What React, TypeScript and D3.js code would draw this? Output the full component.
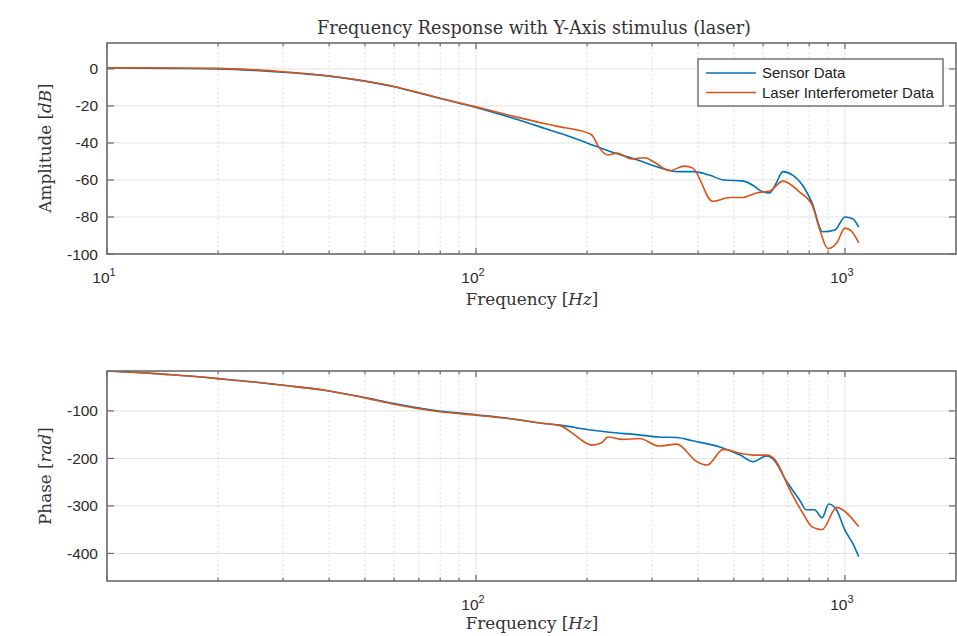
import * as d3 from "d3";
import { useEffect, useRef } from "react";

// amplitude, sensor
const ampSensorFreq = [10, 15, 20, 25, 30, 35, 40, 50, 60, 70, 80, 90, 100, 123, 153, 169, 200, 230, 272, 323, 350, 389, 431, 468, 528, 564, 587, 625, 650, 679, 723, 780, 815, 870, 940, 1000, 1050, 1090];
const ampSensorDb = [0.5, 0.3, 0, -0.8, -1.8, -2.8, -3.9, -6.6, -9.6, -13, -16, -18.5, -20.8, -26, -32, -34.8, -40, -44.5, -49, -54, -55.5, -55.5, -57.5, -60, -60.5, -63, -65.5, -67, -62, -55.5, -57.5, -65, -72.5, -88, -87, -80, -81, -85.5];

// amplitude, laser
const ampLaserFreq = [10, 15, 20, 25, 30, 35, 40, 50, 60, 70, 80, 90, 100, 123, 153, 169, 188, 206, 216, 228, 241, 264, 287, 302, 335, 367, 387, 438, 488, 528, 576, 625, 679, 754, 815, 855, 898, 950, 1000, 1040, 1090];
const ampLaserDb = [0.6, 0.5, 0.3, -0.5, -1.5, -2.6, -3.8, -6.5, -9.5, -12.8, -15.8, -18.3, -20.5, -25, -29.5, -31.3, -33, -35.7, -42.8, -46.5, -45.5, -48.6, -48, -50, -55, -52.5, -53.6, -71.5, -69.5, -69.5, -67, -66, -60.6, -66.6, -73.6, -87, -97, -94, -86, -87.5, -94];

// phase, sensor
const phaseSensorFreq = [10, 15, 20, 25, 30, 40, 50, 60, 76, 100, 123, 153, 169, 200, 230, 273, 313, 350, 387, 458, 520, 564, 612, 636, 696, 754, 786, 827, 867, 904, 950, 1000, 1050, 1090];
const phaseSensorVal = [-16, -24, -32, -39, -46, -58, -72, -84.5, -98, -108, -116, -126.5, -130, -139, -145, -150, -155, -156, -163, -176, -193, -207, -195, -200, -249, -288, -308, -308, -325, -296, -309, -351, -379, -407];

// phase, laser
const phaseLaserFreq = [10, 15, 20, 25, 30, 40, 50, 60, 76, 100, 123, 153, 169, 183, 200, 206, 219, 228, 250, 278, 313, 350, 397, 423, 468, 527, 564, 617, 645, 710, 770, 815, 867, 950, 990, 1090];
const phaseLaserVal = [-16, -24, -32, -39, -46, -58, -72.5, -86, -99.5, -109, -116, -126.5, -131, -147.5, -168.6, -172, -167, -155, -160, -158, -174, -170, -207, -214, -181, -190, -193, -193, -202, -267, -316, -344, -350, -303, -309, -344];

const seriesNames = ["Sensor Data", "Laser Interferometer Data"];
const colors = ["#0072BD", "#D95319"];
const ampTicks = [0, -20, -40, -60, -80, -100];
const phaseTicks = [-100, -200, -300, -400];
const topXTicks = [10, 100, 1000];
const bottomXTicks = [100, 1000];

const W = 957;
const H = 636;
const sans = "'Liberation Sans', Arial, sans-serif";
const serif = "'DejaVu Serif', serif";

const zip = (f, v) => f.map((d, i) => [d, v[i]]);

const App = () => {
  const ref = useRef(null);

  useEffect(() => {
    const svg = d3.select(ref.current);
    svg.selectAll("*").remove();

    const left = 107, right = 956;
    const x = d3.scaleLog().domain([10, 2000]).range([left, right]);
    const decades = [10, 100, 1000];
    const minor = [];
    decades.forEach(dec => {
      for (let k = 2; k <= 9; k++) if (dec * k < 2000) minor.push(dec * k);
    });

    const panels = [
      {
        top: 43, bottom: 254, domain: [-100, 14], yTicks: ampTicks, xTicks: topXTicks,
        series: [zip(ampSensorFreq, ampSensorDb), zip(ampLaserFreq, ampLaserDb)],
        yLabel: ["Amplitude [", "dB", "]"], yLabelY: 148, xLabelY: 305, legend: true,
      },
      {
        top: 371, bottom: 581, domain: [-458, -16], yTicks: phaseTicks, xTicks: bottomXTicks,
        series: [zip(phaseSensorFreq, phaseSensorVal), zip(phaseLaserFreq, phaseLaserVal)],
        yLabel: ["Phase [", "rad", "]"], yLabelY: 476, xLabelY: 629, legend: false,
      },
    ];

    panels.forEach((p, pi) => {
      const y = d3.scaleLinear().domain(p.domain).range([p.bottom, p.top]);
      const g = svg.append("g");

      // grid
      g.selectAll(".ygrid").data(p.yTicks).enter().append("line")
        .attr("x1", left).attr("x2", right)
        .attr("y1", d => y(d)).attr("y2", d => y(d))
        .attr("stroke", "#e2e2e2").attr("stroke-width", 1);
      g.selectAll(".xgrid").data(decades).enter().append("line")
        .attr("x1", d => x(d)).attr("x2", d => x(d))
        .attr("y1", p.top).attr("y2", p.bottom)
        .attr("stroke", "#e2e2e2").attr("stroke-width", 1);
      g.selectAll(".xminor").data(minor).enter().append("line")
        .attr("x1", d => x(d)).attr("x2", d => x(d))
        .attr("y1", p.top).attr("y2", p.bottom)
        .attr("stroke", "#d6d6d6").attr("stroke-width", 1)
        .attr("stroke-dasharray", "1.5,3");

      // lines
      const clipId = "clip" + pi;
      svg.append("clipPath").attr("id", clipId).append("rect")
        .attr("x", left).attr("y", p.top).attr("width", right - left).attr("height", p.bottom - p.top);
      const line = d3.line().curve(d3.curveMonotoneX).x(d => x(d[0])).y(d => y(d[1]));
      p.series.forEach((s, i) => {
        g.append("path").datum(s)
          .attr("d", line)
          .attr("fill", "none")
          .attr("stroke", colors[i])
          .attr("stroke-width", 1.6)
          .attr("stroke-linejoin", "round")
          .attr("clip-path", `url(#${clipId})`);
      });

      // ticks (inward)
      const allX = [...decades, ...minor];
      [p.top, p.bottom].forEach(edge => {
        const dir = edge === p.top ? 1 : -1;
        g.selectAll(".xt").data(allX).enter().append("line")
          .attr("x1", d => x(d)).attr("x2", d => x(d))
          .attr("y1", edge).attr("y2", d => edge + dir * (decades.includes(d) ? 6 : 3.5))
          .attr("stroke", "#6b6b6b").attr("stroke-width", 1.2);
      });
      [left, right].forEach(edge => {
        const dir = edge === left ? 1 : -1;
        g.selectAll(".yt").data(p.yTicks).enter().append("line")
          .attr("x1", edge).attr("x2", edge + dir * 7)
          .attr("y1", d => y(d)).attr("y2", d => y(d))
          .attr("stroke", "#6b6b6b").attr("stroke-width", 1.2);
      });

      // frame
      g.append("rect")
        .attr("x", left).attr("y", p.top)
        .attr("width", right - left).attr("height", p.bottom - p.top)
        .attr("fill", "none").attr("stroke", "#6b6b6b").attr("stroke-width", 1.6);

      // y tick labels
      g.selectAll(".yl").data(p.yTicks).enter().append("text")
        .attr("x", left - 9).attr("y", d => y(d) + 5.5)
        .attr("text-anchor", "end")
        .attr("font-family", sans).attr("font-size", 15.5).attr("fill", "#2b2b2b")
        .text(d => String(d));

      // x tick labels with superscript exponent
      const xl = g.selectAll(".xl").data(p.xTicks).enter().append("text")
        .attr("x", d => x(d) - 3).attr("y", p.bottom + 29)
        .attr("text-anchor", "middle")
        .attr("font-family", sans).attr("font-size", 15.5).attr("fill", "#2b2b2b");
      xl.append("tspan").text("10");
      xl.append("tspan").attr("dy", -7).attr("font-size", 11).text(d => String(Math.round(Math.log10(d))));

      // x label
      const xt = g.append("text")
        .attr("x", 532).attr("y", p.xLabelY)
        .attr("text-anchor", "middle")
        .attr("font-family", serif).attr("font-size", 16.8).attr("fill", "#333");
      xt.append("tspan").text("Frequency [");
      xt.append("tspan").attr("font-style", "italic").text("Hz");
      xt.append("tspan").text("]");

      // y label
      const yt = g.append("text")
        .attr("transform", `translate(51,${p.yLabelY}) rotate(-90)`)
        .attr("text-anchor", "middle")
        .attr("font-family", serif).attr("font-size", 16.8).attr("fill", "#333");
      yt.append("tspan").text(p.yLabel[0]);
      yt.append("tspan").attr("font-style", "italic").text(p.yLabel[1]);
      yt.append("tspan").text(p.yLabel[2]);

      // legend
      if (p.legend) {
        const lg = g.append("g");
        lg.append("rect")
          .attr("x", 698).attr("y", 59).attr("width", 245).attr("height", 47)
          .attr("fill", "#fff").attr("stroke", "#6b6b6b").attr("stroke-width", 1.4);
        seriesNames.forEach((name, i) => {
          const ly = 73 + i * 19.5;
          lg.append("line")
            .attr("x1", 706).attr("x2", 756).attr("y1", ly).attr("y2", ly)
            .attr("stroke", colors[i]).attr("stroke-width", 1.6);
          lg.append("text")
            .attr("x", 762).attr("y", ly + 5)
            .attr("font-family", sans).attr("font-size", 15).attr("fill", "#222")
            .text(name);
        });
      }
    });

    // title
    svg.append("text")
      .attr("x", 534).attr("y", 34)
      .attr("text-anchor", "middle")
      .attr("font-family", serif).attr("font-size", 17.6).attr("fill", "#333")
      .text("Frequency Response with Y-Axis stimulus (laser)");
  }, []);

  return (
    <svg ref={ref} width={W} height={H}
      style={{ position: "absolute", left: 0, top: 0, background: "#fff" }} />
  );
};

export default App;
